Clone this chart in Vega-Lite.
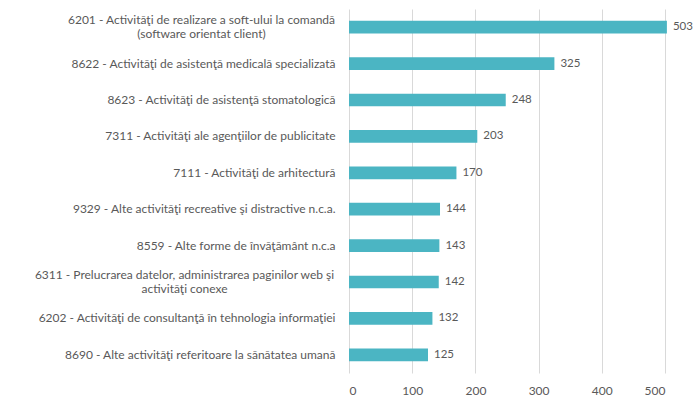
{
  "$schema": "https://vega.github.io/schema/vega-lite/v6.json",
  "width": 316,
  "height": 364,
  "autosize": {"type": "none"},
  "padding": {"left": 349, "top": 9, "right": 28, "bottom": 25},
  "background": "white",
  "config": {"view": {"stroke": null}, "font": "Lato"},
  "data": {
    "values": [
      {"activitate": "6201 - Activităţi de realizare a soft-ului la comandă|(software orientat client)", "firme": 503},
      {"activitate": "8622 - Activităţi de asistenţă medicală specializată", "firme": 325},
      {"activitate": "8623 - Activităţi de asistenţă stomatologică", "firme": 248},
      {"activitate": "7311 - Activităţi ale agenţiilor de publicitate", "firme": 203},
      {"activitate": "7111 - Activităţi de arhitectură", "firme": 170},
      {"activitate": "9329 - Alte activităţi recreative şi distractive n.c.a.", "firme": 144},
      {"activitate": "8559 - Alte forme de învăţământ n.c.a", "firme": 143},
      {"activitate": "6311 - Prelucrarea datelor, administrarea paginilor web şi|activităţi conexe", "firme": 142},
      {"activitate": "6202 - Activităţi de consultanţă în tehnologia informaţiei", "firme": 132},
      {"activitate": "8690 - Alte activităţi referitoare la sănătatea umană", "firme": 125}
    ]
  },
  "encoding": {
    "y": {
      "field": "activitate",
      "type": "nominal",
      "sort": null,
      "scale": {"paddingInner": 0.65, "paddingOuter": 0.325},
      "axis": {
        "title": null,
        "domain": false,
        "ticks": false,
        "grid": false,
        "labelColor": "#595959",
        "labelFontSize": 12,
        "labelLimit": 0,
        "labelLineHeight": 14,
        "labelExpr": "split(datum.label, '|')",
        "labelAlign": {"condition": {"test": "indexof(datum.value, '|') >= 0", "value": "center"}, "value": "right"},
        "labelOffset": {"condition": {"test": "indexof(datum.value, '|') >= 0", "value": -7}, "value": 0},
        "labelPadding": {"condition": [
          {"test": "indexof(datum.value, '6201') == 0", "value": 148},
          {"test": "indexof(datum.value, '6311') == 0", "value": 165}
        ], "value": 14}
      }
    },
    "x": {
      "field": "firme",
      "type": "quantitative",
      "scale": {"domain": [0, 500], "nice": false},
      "axis": {
        "title": null,
        "domain": false,
        "ticks": false,
        "grid": true,
        "gridColor": "#D9D9D9",
        "values": [0, 100, 200, 300, 400, 500],
        "labelPadding": 12,
        "labelColor": "#595959",
        "labelFontSize": 12
      }
    }
  },
  "layer": [
    {"mark": {"type": "bar", "color": "#4BB5C3"}},
    {
      "mark": {"type": "text", "align": "left", "dx": 6, "color": "#595959", "fontSize": 11.5},
      "encoding": {"text": {"field": "firme", "type": "quantitative"}}
    }
  ]
}
